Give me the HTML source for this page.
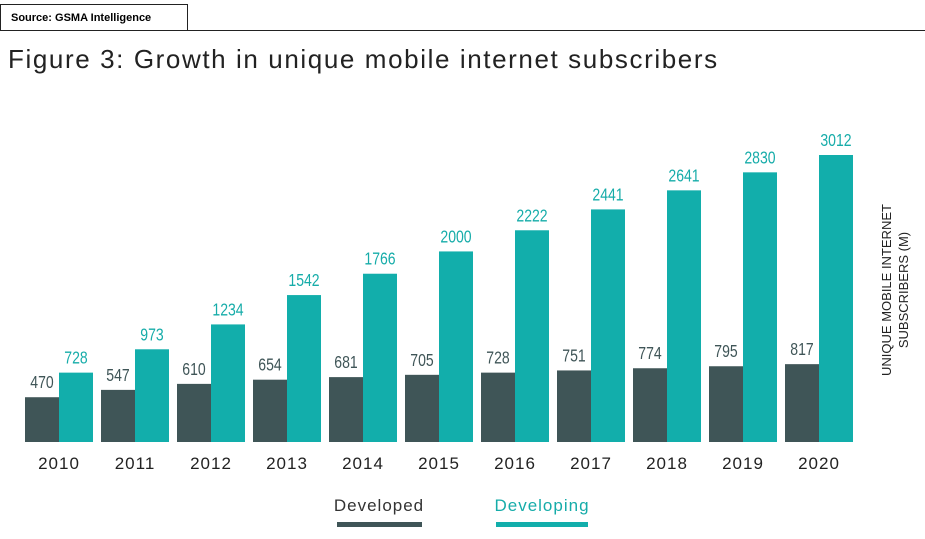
<!DOCTYPE html>
<html><head><meta charset="utf-8"><style>
body{margin:0;width:925px;height:539px;background:#fff;font-family:"Liberation Sans",sans-serif;overflow:hidden;position:relative}
.src{position:absolute;left:0;top:4px;width:188px;height:26px;border:1px solid #222;border-bottom:none;font-size:11px;font-weight:bold;line-height:26px;padding-left:10px;box-sizing:border-box}
.rule{position:absolute;left:0;top:30px;width:925px;height:1px;background:#222}
.title{position:absolute;left:8px;top:44px;font-size:26px;color:#222;letter-spacing:1.6px}
</style></head><body>
<div class="src">Source: GSMA Intelligence</div>
<div class="rule"></div>
<div class="title">Figure 3: Growth in unique mobile internet subscribers</div>
<svg id="chart" width="925" height="539" style="position:absolute;left:0;top:0">
<g id="bars"></g>
<text x="891" y="290" transform="rotate(-90 891 290)" text-anchor="middle" font-size="13" fill="#222">UNIQUE MOBILE INTERNET</text>
<text x="908" y="290" transform="rotate(-90 908 290)" text-anchor="middle" font-size="13" fill="#222">SUBSCRIBERS (M)</text>
<text x="379" y="511" text-anchor="middle" font-size="17" letter-spacing="1" fill="#333">Developed</text>
<rect x="337" y="522" width="85" height="5" fill="#3f5557"/>
<text x="542" y="511" text-anchor="middle" font-size="17" letter-spacing="1" fill="#16aca9">Developing</text>
<rect x="496" y="522" width="92" height="5" fill="#12aeab"/>
</svg>
<script>
const years=["2010","2011","2012","2013","2014","2015","2016","2017","2018","2019","2020"];
const developed=[470,547,610,654,681,705,728,751,774,795,817];
const developing=[728,973,1234,1542,1766,2000,2222,2441,2641,2830,3012];
const base=442, scale=287/3012, x0=25, step=76, bw=34;
const y=v=>base-v*scale;
const g=document.getElementById('bars');
const NS='http://www.w3.org/2000/svg';
function mk(t,a){const e=document.createElementNS(NS,t);for(const k in a)e.setAttribute(k,a[k]);g.appendChild(e);return e;}
years.forEach((yr,i)=>{
  const xd=x0+i*step, xv=xd+bw;
  const r1=mk('rect',{x:xd,y:y(developed[i]),width:bw,height:base-y(developed[i]),fill:'#3f5557'});
  
  
  const r2=mk('rect',{x:xv,y:y(developing[i]),width:bw,height:base-y(developing[i]),fill:'#12aeab'});
  
  
  const t1=mk('text',{x:xd+bw/2,y:y(developed[i])-9,'text-anchor':'middle','font-size':'18',fill:'#3f5557',transform:`translate(${xd+bw/2} 0) scale(0.78 1) translate(${-(xd+bw/2)} 0)`});
  t1.textContent=developed[i];
  
  
  const t2=mk('text',{x:xv+bw/2,y:y(developing[i])-9,'text-anchor':'middle','font-size':'18',fill:'#16aca9',transform:`translate(${xv+bw/2} 0) scale(0.78 1) translate(${-(xv+bw/2)} 0)`});
  t2.textContent=developing[i];
  
  
  const t3=mk('text',{x:xd+bw,y:469,'text-anchor':'middle','font-size':'17','letter-spacing':'1',fill:'#222'});
  t3.textContent=yr;
  
  
});
</script>
</body></html>
